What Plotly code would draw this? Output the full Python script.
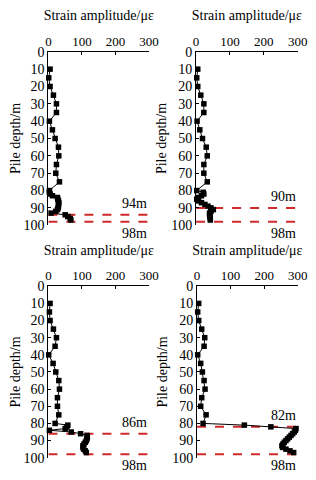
import plotly.graph_objects as go

# ---- data ----
depth_coarse = [10, 15, 20, 25, 30, 35, 40, 45, 50, 55, 60, 65, 70, 75]
depth_fine = [80, 81, 82, 83, 84, 85, 86, 87, 88, 89, 90, 91, 92, 93, 94, 95, 96, 97]
depths = depth_coarse + depth_fine

strain_a = [5, 1, 5, 15, 24, 24, 3, 12, 20, 30, 31, 24, 22, 33,
            3, 3, 5, 12, 27, 28, 30, 31, 30, 30, 29, 27, 22, 8, 50, 58, 65, 67]
strain_b = [5, 2, 5, 14, 23, 23, 3, 11, 19, 30, 33, 23, 23, 33,
            2, 21, 23, 16, 7, 2, 7, 16, 26, 35, 44, 51, 44, 40, 40, 41, 42, 42]
strain_c = [5, 3, 5, 15, 24, 20, 1, 14, 22, 31, 33, 27, 27, 31,
            20, 58, 55, 50, 3, 68, 96, 115, 116, 115, 113, 110, 106, 103, 103, 105, 110, 113]
strain_d = [5, 2, 5, 14, 23, 21, 2, 11, 16, 21, 24, 14, 11, 27,
            18, 141, 220, 295, 293, 290, 285, 280, 275, 270, 265, 260, 256, 253, 255, 265, 277, 288]

series = [strain_a, strain_b, strain_c, strain_d]
top_lines = [94, 90, 86, 82]
bottom_line = 98
x_ticks = [0, 100, 200, 300]
y_ticks = list(range(0, 101, 10))

x_title = "Strain amplitude/με"
y_title = "Pile depth/m"

# ---- layout ----
W, H = 316, 480
x_domains = [(39 / W, 144 / W), (193 / W, 299 / W), (39 / W, 144 / W), (194 / W, 299 / W)]
y_domains = [(1 - 217 / H, 1 - 38 / H), (1 - 217 / H, 1 - 38 / H),
             (1 - 457 / H, 1 - 280 / H), (1 - 457 / H, 1 - 280 / H)]

FONT = "Liberation Serif"
RED = "#d02a2a"

fig = go.Figure()
layout = dict(width=W, height=H, margin=dict(l=0, r=0, t=0, b=0),
              paper_bgcolor="white", plot_bgcolor="white", showlegend=False,
              font=dict(family=FONT, size=13, color="black"))
annotations = []

for i, vals in enumerate(series):
    n = i + 1
    xa = "x" if n == 1 else f"x{n}"
    ya = "y" if n == 1 else f"y{n}"
    for d in (top_lines[i], bottom_line):
        fig.add_trace(go.Scatter(x=[x_ticks[0], x_ticks[-1]], y=[d, d], mode="lines",
                                 line=dict(color=RED, width=2, dash="dash"),
                                 xaxis=xa, yaxis=ya, hoverinfo="skip"))
    fig.add_trace(go.Scatter(x=vals, y=depths, mode="lines+markers",
                             line=dict(color="black", width=1),
                             marker=dict(symbol="square", size=5.5, color="black"),
                             xaxis=xa, yaxis=ya, cliponaxis=False))
    key_x = "xaxis" if n == 1 else f"xaxis{n}"
    key_y = "yaxis" if n == 1 else f"yaxis{n}"
    layout[key_x] = dict(domain=list(x_domains[i]), anchor=ya, side="top",
                         range=[x_ticks[0], x_ticks[-1]], tickvals=x_ticks,
                         ticks="inside", ticklen=3, tickcolor="black",
                         showline=True, linecolor="black", linewidth=1,
                         showgrid=False, zeroline=False,
                         tickfont=dict(family=FONT, size=13),
                         title=dict(text=x_title, font=dict(family=FONT, size=14), standoff=9))
    layout[key_y] = dict(domain=list(y_domains[i]), anchor=xa,
                         range=[100, 0], tickvals=y_ticks,
                         ticks="inside", ticklen=3, tickcolor="black",
                         showline=True, linecolor="black", linewidth=1,
                         showgrid=False, zeroline=False,
                         tickfont=dict(family=FONT, size=14),
                         title=dict(text=y_title, font=dict(family=FONT, size=14), standoff=1))
    xref = "x" if n == 1 else f"x{n}"
    yref = "y" if n == 1 else f"y{n}"
    annotations.append(dict(x=x_ticks[-1], y=top_lines[i], xref=xref, yref=yref,
                            text=f"{top_lines[i]}m", showarrow=False,
                            xanchor="right", yanchor="bottom", yshift=2,
                            font=dict(family=FONT, size=14)))
    annotations.append(dict(x=x_ticks[-1], y=bottom_line, xref=xref, yref=yref,
                            text=f"{bottom_line}m", showarrow=False,
                            xanchor="right", yanchor="top", yshift=-2,
                            font=dict(family=FONT, size=14)))

layout["annotations"] = annotations
fig.update_layout(**layout)
fig.write_html("out.html")
